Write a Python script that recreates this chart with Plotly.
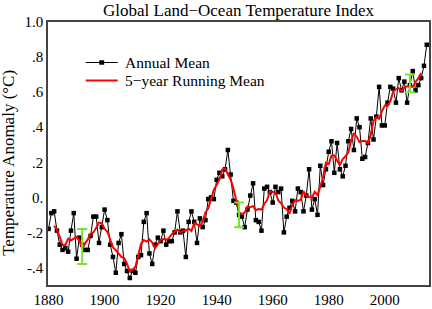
import plotly.graph_objects as go
import pandas as pd

years = list(range(1880, 2016))
annual_mean = [
    -0.18, -0.09, -0.08, -0.19, -0.27, -0.30, -0.29, -0.31, -0.19, -0.09,
    -0.35, -0.23, -0.27, -0.30, -0.30, -0.22, -0.11, -0.11, -0.26, -0.17,
    -0.07, -0.13, -0.27, -0.34, -0.43, -0.26, -0.21, -0.38, -0.42, -0.46,
    -0.42, -0.43, -0.34, -0.33, -0.14, -0.09, -0.32, -0.38, -0.27, -0.23,
    -0.25, -0.19, -0.27, -0.25, -0.25, -0.20, -0.08, -0.20, -0.19, -0.34,
    -0.14, -0.08, -0.14, -0.26, -0.12, -0.17, -0.13, -0.01, 0.00, -0.01,
    0.10, 0.14, 0.12, 0.16, 0.27, 0.13, -0.02, -0.03, -0.10, -0.11,
    -0.17, -0.07, 0.01, 0.08, -0.13, -0.14, -0.19, 0.05, 0.06, 0.03,
    -0.03, 0.06, 0.03, 0.05, -0.20, -0.11, -0.06, -0.02, -0.08, 0.05,
    0.03, -0.08, 0.01, 0.16, -0.07, -0.01, -0.10, 0.18, 0.07, 0.16,
    0.26, 0.32, 0.14, 0.31, 0.16, 0.12, 0.18, 0.32, 0.39, 0.27,
    0.45, 0.40, 0.22, 0.23, 0.31, 0.45, 0.33, 0.46, 0.63, 0.41,
    0.41, 0.54, 0.63, 0.62, 0.54, 0.68, 0.61, 0.66, 0.54, 0.64,
    0.72, 0.61, 0.64, 0.68, 0.75, 0.87,
]

# uncertainty bars
unc_years = [1892, 1948, 2009]
unc_center = [-0.28, -0.10, 0.65]
unc_half = [0.10, 0.07, 0.05]

y_tickvals = [-0.4, -0.2, 0.0, 0.2, 0.4, 0.6, 0.8, 1.0]
y_ticktext = ["-.4", "-.2", "0.", ".2", ".4", ".6", ".8", "1.0"]
x_tickvals = [1880, 1900, 1920, 1940, 1960, 1980, 2000]

legend_labels = ["Annual Mean", "5\u2212year Running Mean"]
title_text = "Global Land\u2212Ocean Temperature Index"
ytitle_text = "Temperature Anomaly (\u00b0C)"

s = pd.Series(annual_mean, index=years)
running = s.rolling(5, center=True).mean().dropna()

FONT = "Liberation Serif"
BLACK = "black"
RED = "#ff0000"
GREEN = "#74e62a"

fig = go.Figure()
fig.add_trace(go.Scatter(
    x=years, y=annual_mean, mode="lines+markers", name=legend_labels[0],
    line=dict(color=BLACK, width=1),
    marker=dict(symbol="square", size=4.5, color=BLACK),
    showlegend=False,
))
fig.add_trace(go.Scatter(
    x=list(running.index), y=list(running.values), mode="lines",
    name=legend_labels[1],
    line=dict(color=RED, width=2),
    showlegend=False,
))
fig.add_trace(go.Scatter(
    x=unc_years, y=unc_center, mode="markers", showlegend=False,
    marker=dict(size=0.1, color="rgba(0,0,0,0)"),
    error_y=dict(type="data", array=unc_half, visible=True,
                 color=GREEN, thickness=2, width=5),
))

# manual legend (paper coordinates)
lx0, lx1, ltx = 0.099, 0.183, 0.196
rows = [0.846, 0.778]
fig.add_shape(type="line", xref="paper", yref="paper", x0=lx0, x1=lx1,
              y0=rows[0], y1=rows[0], line=dict(color=BLACK, width=1))
fig.add_shape(type="rect", xref="paper", yref="paper",
              x0=(lx0 + lx1) / 2 - 0.0065, x1=(lx0 + lx1) / 2 + 0.0065,
              y0=rows[0] - 0.0085, y1=rows[0] + 0.0085,
              line=dict(width=0), fillcolor=BLACK)
fig.add_shape(type="line", xref="paper", yref="paper", x0=lx0, x1=lx1,
              y0=rows[1], y1=rows[1], line=dict(color=RED, width=2))
for lab, ry in zip(legend_labels, rows):
    fig.add_annotation(text=lab, xref="paper", yref="paper", x=ltx, y=ry,
                       xanchor="left", yanchor="middle", showarrow=False,
                       font=dict(size=15.5, family=FONT, color=BLACK))

# title as annotation
fig.add_annotation(text=title_text, xref="paper", yref="paper",
                   x=0.5, y=1.042, xanchor="center", yanchor="middle",
                   showarrow=False,
                   font=dict(size=17, family=FONT, color=BLACK))

# y-axis title as annotation
fig.add_annotation(text=ytitle_text, xref="paper",
                   yref="paper", x=-0.102, y=0.465, textangle=-90,
                   xanchor="center", yanchor="middle", showarrow=False,
                   font=dict(size=17, family=FONT, color=BLACK))

fig.update_layout(
    width=432, height=309,
    margin=dict(l=48, r=1, t=22, b=16),
    paper_bgcolor="white", plot_bgcolor="white",
    font=dict(family=FONT, size=15, color=BLACK),
    showlegend=False,
)
fig.update_xaxes(range=[1879.8, 2015.8], tickvals=x_tickvals,
                 showgrid=False, zeroline=False, showline=True, mirror=True,
                 linecolor="#444", linewidth=1.5, ticks="",
                 tickfont=dict(size=15, family=FONT))
fig.update_yaxes(range=[-0.5, 1.0], tickvals=y_tickvals, ticktext=y_ticktext,
                 showgrid=False, zeroline=False, showline=True, mirror=True,
                 linecolor="#444", linewidth=1.5, ticks="",
                 tickfont=dict(size=15, family=FONT))

fig.write_html("out.html")
